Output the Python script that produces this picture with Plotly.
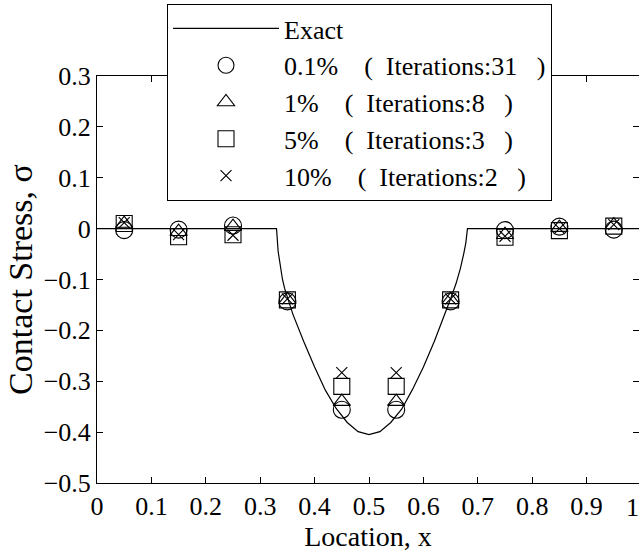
import plotly.graph_objects as go

FONT = "Liberation Serif, Times New Roman, serif"
NB = "\u00a0"

# Exact solution curve
exact_x = [0.0, 0.330, 0.333, 0.337, 0.341, 0.345, 0.350, 0.360, 0.380, 0.400, 0.420, 0.440,
           0.460, 0.480, 0.500, 0.520, 0.540, 0.560, 0.580, 0.600, 0.620, 0.640, 0.650,
           0.660, 0.668, 0.674, 0.678, 0.681, 1.0]
exact_y = [0.0, 0.0, -0.045, -0.075, -0.100, -0.118, -0.136, -0.168, -0.222, -0.272, -0.318, -0.354,
           -0.381, -0.399, -0.405, -0.399, -0.381, -0.355, -0.316, -0.272, -0.222, -0.168, -0.138,
           -0.108, -0.078, -0.050, -0.028, 0.0, 0.0]

# Numerical results
x_pts = [0.05, 0.15, 0.25, 0.35, 0.45, 0.55, 0.65, 0.75, 0.85, 0.95]
s_01 = [-0.003, -0.002, 0.006, -0.143, -0.356, -0.356, -0.143, -0.003, 0.004, -0.002]
s_1 = [0.010, -0.006, 0.004, -0.140, -0.340, -0.340, -0.140, -0.012, 0.002, 0.007]
s_5 = [0.010, -0.016, -0.012, -0.140, -0.310, -0.310, -0.140, -0.017, -0.004, 0.005]
s_10 = [0.012, -0.012, -0.013, -0.138, -0.283, -0.283, -0.138, -0.015, 0.000, 0.008]

levels = ["0.1%", "1%", "5%", "10%"]
iterations = [31, 8, 3, 2]
names = [f"{lv}{NB*4}({NB*2}Iterations:{it}{NB*3})" for lv, it in zip(levels, iterations)]
x_ticks = [0, 0.1, 0.2, 0.3, 0.4, 0.5, 0.6, 0.7, 0.8, 0.9, 1]
x_tick_text = ["0", "0.1", "0.2", "0.3", "0.4", "0.5", "0.6", "0.7", "0.8", "0.9", "1"]
y_ticks = [0.3, 0.2, 0.1, 0, -0.1, -0.2, -0.3, -0.4, -0.5]
y_tick_text = ["0.3", "0.2", "0.1", "0", "\u22120.1", "\u22120.2", "\u22120.3", "\u22120.4", "\u22120.5"]

fig = go.Figure()
fig.add_trace(go.Scatter(x=exact_x, y=exact_y, mode="lines", name="Exact",
                         line=dict(color="black", width=1.2)))
series = [s_01, s_1, s_5, s_10]
symbols = ["circle-open", "triangle-up-open", "square-open", "x-thin-open"]
sizes = [17, 15, 16, 11]
for vals, nm, sym, sz in zip(series, names, symbols, sizes):
    fig.add_trace(go.Scatter(x=x_pts, y=vals, mode="markers", name=nm,
                             marker=dict(symbol=sym, size=sz, color="black",
                                         line=dict(color="black", width=1.1))))

# invisible trace for right axis ticks
fig.add_trace(go.Scatter(x=[None], y=[None], yaxis="y2", showlegend=False, hoverinfo="skip"))

PLOT_L, PLOT_R, PLOT_T, PLOT_B = 97, 639, 76, 483
PX_PER_X = 544.0  # pixels per unit x (x=1 lies just beyond right edge)

fig.update_layout(
    width=639, height=554,
    margin=dict(l=PLOT_L, r=639 - PLOT_R, t=PLOT_T, b=554 - PLOT_B),
    paper_bgcolor="white", plot_bgcolor="white",
    font=dict(family=FONT, size=26, color="black"),
    xaxis=dict(range=[0, (PLOT_R - PLOT_L) / PX_PER_X], tickvals=x_ticks[:-1], ticktext=x_tick_text[:-1],
               ticks="inside", ticklen=6, tickcolor="black", showline=True, linecolor="black",
               linewidth=1, mirror="ticks", showgrid=False, zeroline=False,
               tickfont=dict(family=FONT, size=26),
               title=dict(text="Location, x", font=dict(family=FONT, size=28), standoff=4)),
    yaxis=dict(range=[-0.5, 0.3], tickvals=y_ticks, ticktext=y_tick_text,
               ticks="inside", ticklen=6, tickcolor="black", showline=True, linecolor="black",
               linewidth=1, showgrid=False, zeroline=False,
               tickfont=dict(family=FONT, size=26),
               title=dict(text="Contact Stress, \u03c3", font=dict(family=FONT, size=34), standoff=0)),
    yaxis2=dict(range=[-0.5, 0.3], tickvals=y_ticks, overlaying="y", side="right",
                ticks="inside", ticklen=6, tickcolor="black", showticklabels=False,
                showline=False, showgrid=False, zeroline=False),
    legend=dict(x=(167 - PLOT_L) / (PLOT_R - PLOT_L), y=1 + (PLOT_T - 4) / (PLOT_B - PLOT_T),
                xanchor="left", yanchor="top",
                bgcolor="white", bordercolor="black", borderwidth=1,
                font=dict(family=FONT, size=26), itemwidth=106, tracegroupgap=0),
    showlegend=True,
)
fig.add_annotation(x=(PLOT_L + PX_PER_X - PLOT_L) / (PLOT_R - PLOT_L), y=0, xref="paper", yref="paper",
                   text=x_tick_text[-1], showarrow=False, yanchor="top", yshift=-8,
                   font=dict(family=FONT, size=26, color="black"))
fig.write_html("out.html")
